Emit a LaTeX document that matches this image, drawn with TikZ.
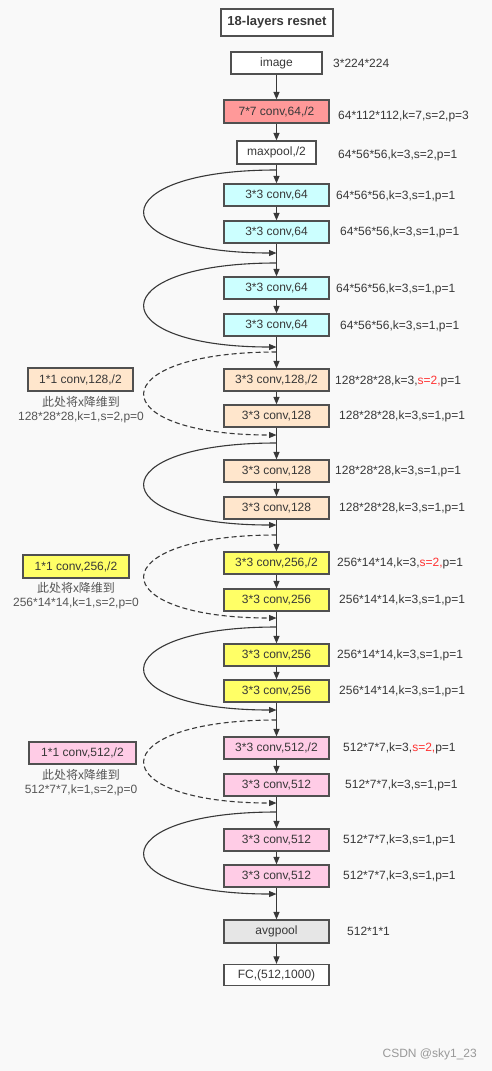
\documentclass[tikz,border=0pt]{standalone}
\usepackage{fontspec}
\setmainfont{Liberation Sans}
\newfontfamily\cjk{Noto Sans CJK SC}
\usetikzlibrary{arrows.meta}
\definecolor{bg}{HTML}{F9F9F9}
\definecolor{ink}{HTML}{383838}
\definecolor{edge}{HTML}{505050}
\definecolor{fred}{HTML}{FF9999}
\definecolor{fcyan}{HTML}{CCFFFF}
\definecolor{fpeach}{HTML}{FFE6CC}
\definecolor{fyel}{HTML}{FFFF66}
\definecolor{fpink}{HTML}{FFCCE6}
\definecolor{fgray}{HTML}{E6E6E6}
\definecolor{hired}{HTML}{FF3333}
\tikzset{
  blk/.style={draw=edge, line width=1.2pt, rectangle, inner sep=0pt,
    minimum width=105pt, minimum height=22pt, text=ink,
    font=\fontsize{12}{14}\selectfont},
  lab/.style={anchor=west, inner sep=0pt, text=ink, font=\fontsize{12}{14}\selectfont},
  note/.style={inner sep=0pt, text=ink!85, font=\fontsize{12}{14}\selectfont},
  arr/.style={draw=ink, line width=1.1pt, -{Triangle[length=7.5pt,width=6pt]}},
  skipline/.style={draw=ink, line width=1.1pt, -{Triangle[length=7.5pt,width=6pt]}},
  skipdash/.style={skipline, dash pattern=on 5pt off 3pt},
}
\begin{document}
\begin{tikzpicture}[x=1pt,y=-1pt]
\fill[bg] (0,0) rectangle (492,1071);
\useasboundingbox (0,0) rectangle (492,1071);

% main column
\node[blk, minimum width=112pt, minimum height=27pt, font=\bfseries\fontsize{13}{15}\selectfont, fill=white] (title) at (277,22.5) {18-layers resnet};
\node[blk, minimum width=91pt, fill=white] (img) at (276.5,63) {image};
\node[blk, minimum height=23pt, fill=fred] (c7) at (276.5,111.5) {7*7 conv,64,/2};
\node[blk, minimum width=79pt, minimum height=23pt, fill=white] (mp) at (276.5,152.5) {maxpool,/2};

\node[blk, fill=fcyan] (a1) at (276.5,195) {3*3 conv,64};
\node[blk, fill=fcyan] (a2) at (276.5,232) {3*3 conv,64};
\node[blk, fill=fcyan] (a3) at (276.5,288) {3*3 conv,64};
\node[blk, fill=fcyan] (a4) at (276.5,325) {3*3 conv,64};

\node[blk, fill=fpeach] (b1) at (276.5,380) {3*3 conv,128,/2};
\node[blk, fill=fpeach] (b2) at (276.5,416) {3*3 conv,128};
\node[blk, fill=fpeach] (b3) at (276.5,471) {3*3 conv,128};
\node[blk, fill=fpeach] (b4) at (276.5,508) {3*3 conv,128};

\node[blk, fill=fyel] (c1) at (276.5,563) {3*3 conv,256,/2};
\node[blk, fill=fyel] (c2) at (276.5,600) {3*3 conv,256};
\node[blk, fill=fyel] (c3) at (276.5,655) {3*3 conv,256};
\node[blk, fill=fyel] (c4) at (276.5,691) {3*3 conv,256};

\node[blk, fill=fpink] (d1) at (276.5,748) {3*3 conv,512,/2};
\node[blk, fill=fpink] (d2) at (276.5,785) {3*3 conv,512};
\node[blk, fill=fpink] (d3) at (276.5,840) {3*3 conv,512};
\node[blk, fill=fpink] (d4) at (276.5,876) {3*3 conv,512};

\node[blk, minimum height=23pt, fill=fgray] (avg) at (276.5,931.5) {avgpool};
\node[blk, minimum height=21pt, fill=white] (fc) at (276.5,975) {FC,(512,1000)};

% main arrows
\foreach \u/\v in {img/c7, c7/mp, mp/a1, a1/a2, a2/a3, a3/a4, a4/b1, b1/b2, b2/b3, b3/b4, b4/c1, c1/c2, c2/c3, c3/c4, c4/d1, d1/d2, d2/d3, d3/d4, d4/avg, avg/fc}
  \draw[arr] (\u) -- (\v);

% skip points
\coordinate (s1) at (276.5,170); \coordinate (e1) at (276.5,253);
\coordinate (s2) at (276.5,263); \coordinate (e2) at (276.5,347);
\coordinate (s3) at (276.5,352); \coordinate (e3) at (276.5,435);
\coordinate (s4) at (276.5,443); \coordinate (e4) at (276.5,525);
\coordinate (s5) at (276.5,535); \coordinate (e5) at (276.5,618);
\coordinate (s6) at (276.5,627); \coordinate (e6) at (276.5,710);
\coordinate (s7) at (276.5,720); \coordinate (e7) at (276.5,803);
\coordinate (s8) at (276.5,812); \coordinate (e8) at (276.5,894);

\draw[skipline] (s1) .. controls +(-176,0) and +(-176,0) .. (e1);
\draw[skipline] (s2) .. controls +(-176,0) and +(-176,0) .. (e2);
\draw[skipdash] (s3) .. controls +(-176,0) and +(-176,0) .. (e3);
\draw[skipline] (s4) .. controls +(-176,0) and +(-176,0) .. (e4);
\draw[skipdash] (s5) .. controls +(-176,0) and +(-176,0) .. (e5);
\draw[skipline] (s6) .. controls +(-176,0) and +(-176,0) .. (e6);
\draw[skipdash] (s7) .. controls +(-176,0) and +(-176,0) .. (e7);
\draw[skipline] (s8) .. controls +(-176,0) and +(-176,0) .. (e8);

% right labels
\node[lab] (r0) at (333,63) {3*224*224};
\node[lab] (r1) at (338,116) {64*112*112,k=7,s=2,p=3};
\node[lab] (r2) at (338,155) {64*56*56,k=3,s=2,p=1};
\node[lab] (ra1) at (336,196) {64*56*56,k=3,s=1,p=1};
\node[lab] (ra2) at (340,232) {64*56*56,k=3,s=1,p=1};
\node[lab] (ra3) at (336,289) {64*56*56,k=3,s=1,p=1};
\node[lab] (ra4) at (340,326) {64*56*56,k=3,s=1,p=1};
\node[lab] (rb1) at (335,381) {128*28*28,k=3,\textcolor{hired}{s=2,}p=1};
\node[lab] (rb2) at (339,416) {128*28*28,k=3,s=1,p=1};
\node[lab] (rb3) at (335,471) {128*28*28,k=3,s=1,p=1};
\node[lab] (rb4) at (339,508) {128*28*28,k=3,s=1,p=1};
\node[lab] (rc1) at (337,563) {256*14*14,k=3,\textcolor{hired}{s=2,}p=1};
\node[lab] (rc2) at (339,600) {256*14*14,k=3,s=1,p=1};
\node[lab] (rc3) at (337,655) {256*14*14,k=3,s=1,p=1};
\node[lab] (rc4) at (339,691) {256*14*14,k=3,s=1,p=1};
\node[lab] (rd1) at (343,748) {512*7*7,k=3,\textcolor{hired}{s=2,}p=1};
\node[lab] (rd2) at (345,785) {512*7*7,k=3,s=1,p=1};
\node[lab] (rd3) at (343,840) {512*7*7,k=3,s=1,p=1};
\node[lab] (rd4) at (343,876) {512*7*7,k=3,s=1,p=1};
\node[lab] (ravg) at (347,931) {512*1*1};

% left downsample boxes
\node[blk, minimum height=23pt, fill=fpeach] (L1) at (80.5,379.5) {1*1 conv,128,/2};
\node[note] (L1a) at (81,402) {\cjk 此处将x降维到};
\node[note] (L1b) at (81,417) {128*28*28,k=1,s=2,p=0};
\node[blk, minimum width=106pt, minimum height=23pt, fill=fyel] (L2) at (76,566.5) {1*1 conv,256,/2};
\node[note] (L2a) at (76,588) {\cjk 此处将x降维到};
\node[note] (L2b) at (76,603) {256*14*14,k=1,s=2,p=0};
\node[blk, minimum width=107pt, fill=fpink] (L3) at (82.5,753) {1*1 conv,512,/2};
\node[note] (L3a) at (81,775) {\cjk 此处将x降维到};
\node[note] (L3b) at (81,790) {512*7*7,k=1,s=2,p=0};

% watermark
\node[anchor=east, inner sep=0pt, text=black!40, font=\fontsize{12}{14}\selectfont] (wm) at (477,1054) {CSDN @sky1\_23};
\end{tikzpicture}
\end{document}
